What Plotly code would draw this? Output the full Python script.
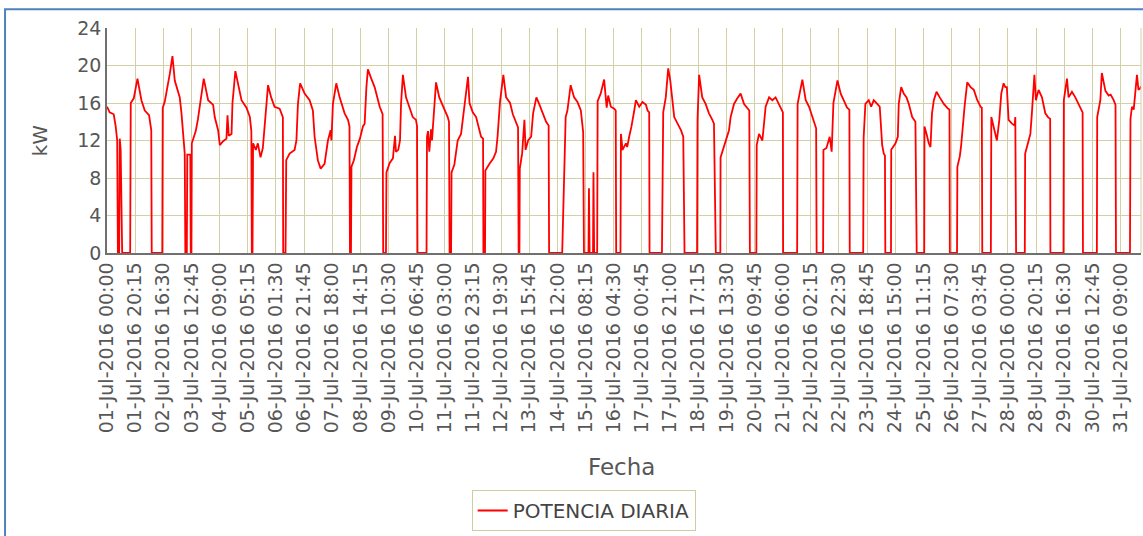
import pandas as pd
import plotly.graph_objects as go

# ---------------- data ----------------
fecha = [
    # 01-Jul
    "2016-07-01 00:00", "2016-07-01 01:55", "2016-07-01 04:50", "2016-07-01 06:15", "2016-07-01 07:20",
    "2016-07-01 07:50", "2016-07-01 08:45", "2016-07-01 09:10", "2016-07-01 09:50", "2016-07-01 10:55",
    "2016-07-01 16:40", "2016-07-01 17:05", "2016-07-01 19:15", "2016-07-01 21:55", "2016-07-02 00:45",
    "2016-07-02 03:10", "2016-07-02 06:15", "2016-07-02 07:50", "2016-07-02 08:10",
    # 02-Jul .. 05-Jul
    "2016-07-02 15:45", "2016-07-02 16:05", "2016-07-02 17:30", "2016-07-02 21:10", "2016-07-02 23:05",
    "2016-07-03 00:45", "2016-07-03 04:20", "2016-07-03 05:35", "2016-07-03 06:45", "2016-07-03 07:55",
    "2016-07-03 08:20", "2016-07-03 09:25", "2016-07-03 09:45", "2016-07-03 11:55", "2016-07-03 12:15",
    "2016-07-03 12:45", "2016-07-03 13:00", "2016-07-03 14:25", "2016-07-03 15:50", "2016-07-03 17:20",
    "2016-07-03 18:45", "2016-07-03 21:35", "2016-07-04 00:45", "2016-07-04 04:20", "2016-07-04 05:30",
    "2016-07-04 07:55", "2016-07-04 09:10", "2016-07-04 11:20", "2016-07-04 13:55", "2016-07-04 14:40",
    "2016-07-04 15:35", "2016-07-04 17:35", "2016-07-04 18:15", "2016-07-04 20:20", "2016-07-05 00:45",
    "2016-07-05 04:20", "2016-07-05 06:45", "2016-07-05 07:50", "2016-07-05 08:10",
    # 05-Jul .. 06-Jul
    "2016-07-05 08:40", "2016-07-05 09:05", "2016-07-05 11:05", "2016-07-05 12:30", "2016-07-05 14:25",
    "2016-07-05 16:05", "2016-07-05 17:30", "2016-07-05 18:45", "2016-07-05 19:50", "2016-07-05 22:05",
    "2016-07-06 00:30", "2016-07-06 04:10", "2016-07-06 05:25", "2016-07-06 06:30", "2016-07-06 06:45",
    # 06-Jul .. 08-Jul
    "2016-07-06 08:25", "2016-07-06 08:55", "2016-07-06 11:20", "2016-07-06 14:55", "2016-07-06 16:15",
    "2016-07-06 17:20", "2016-07-06 18:55", "2016-07-06 22:10", "2016-07-07 01:45", "2016-07-07 04:05",
    "2016-07-07 05:20", "2016-07-07 07:40", "2016-07-07 09:40", "2016-07-07 12:30", "2016-07-07 14:55",
    "2016-07-07 16:50", "2016-07-07 17:25", "2016-07-07 18:30", "2016-07-07 20:55", "2016-07-07 23:20",
    "2016-07-08 02:55", "2016-07-08 05:20", "2016-07-08 06:25", "2016-07-08 06:45",
    # 08-Jul .. 09-Jul
    "2016-07-08 07:30", "2016-07-08 07:50", "2016-07-08 09:35", "2016-07-08 11:45", "2016-07-08 13:55",
    "2016-07-08 16:05", "2016-07-08 17:20", "2016-07-08 18:35", "2016-07-08 19:40", "2016-07-08 22:05",
    "2016-07-09 00:30", "2016-07-09 04:10", "2016-07-09 05:15", "2016-07-09 06:15", "2016-07-09 06:40",
    # 09-Jul .. 10-Jul
    "2016-07-09 08:40", "2016-07-09 09:00", "2016-07-09 11:20", "2016-07-09 13:40", "2016-07-09 15:10",
    "2016-07-09 15:50", "2016-07-09 17:30", "2016-07-09 18:45", "2016-07-09 19:30", "2016-07-09 20:50",
    "2016-07-09 23:05", "2016-07-10 01:25", "2016-07-10 03:55", "2016-07-10 06:15", "2016-07-10 07:00",
    "2016-07-10 07:20",
    # 10-Jul .. 11-Jul
    "2016-07-10 13:50", "2016-07-10 14:10", "2016-07-10 14:55", "2016-07-10 15:50", "2016-07-10 17:05",
    "2016-07-10 17:45", "2016-07-10 19:25", "2016-07-10 20:40", "2016-07-10 23:00", "2016-07-11 02:40",
    "2016-07-11 05:05", "2016-07-11 06:00", "2016-07-11 06:25",
    # 11-Jul .. 12-Jul
    "2016-07-11 07:30", "2016-07-11 07:50", "2016-07-11 09:50", "2016-07-11 11:05", "2016-07-11 12:15",
    "2016-07-11 14:40", "2016-07-11 16:05", "2016-07-11 17:30", "2016-07-11 19:40", "2016-07-11 20:45",
    "2016-07-11 23:05", "2016-07-12 01:30", "2016-07-12 03:50", "2016-07-12 05:05", "2016-07-12 06:30",
    "2016-07-12 06:45",
    # 12-Jul .. 13-Jul
    "2016-07-12 07:55", "2016-07-12 08:10", "2016-07-12 11:00", "2016-07-12 13:55", "2016-07-12 15:50",
    "2016-07-12 16:55", "2016-07-12 18:45", "2016-07-12 21:05", "2016-07-12 23:05", "2016-07-13 01:55",
    "2016-07-13 03:55", "2016-07-13 06:15", "2016-07-13 07:40", "2016-07-13 08:05",
    # 13-Jul .. 14-Jul
    "2016-07-13 08:40", "2016-07-13 08:55", "2016-07-13 10:35", "2016-07-13 12:15", "2016-07-13 13:05",
    "2016-07-13 14:55", "2016-07-13 17:05", "2016-07-13 18:30", "2016-07-13 20:50", "2016-07-13 22:50",
    "2016-07-14 01:30", "2016-07-14 03:50", "2016-07-14 05:40", "2016-07-14 06:00",
    # 14-Jul .. 15-Jul
    "2016-07-14 15:25", "2016-07-14 17:55", "2016-07-14 19:10", "2016-07-14 20:05", "2016-07-14 21:30",
    "2016-07-15 00:00", "2016-07-15 02:25", "2016-07-15 04:50", "2016-07-15 06:30", "2016-07-15 07:05",
    "2016-07-15 10:20", "2016-07-15 10:40", "2016-07-15 11:10", "2016-07-15 13:35", "2016-07-15 13:55",
    "2016-07-15 14:25",
    # 15-Jul .. 16-Jul
    "2016-07-15 16:35", "2016-07-15 16:55", "2016-07-15 19:05", "2016-07-15 21:35", "2016-07-15 23:25",
    "2016-07-16 00:30", "2016-07-16 02:25", "2016-07-16 04:50", "2016-07-16 05:55", "2016-07-16 06:15",
    # 16-Jul .. 17-Jul
    "2016-07-16 09:20", "2016-07-16 09:40", "2016-07-16 10:50", "2016-07-16 13:15", "2016-07-16 14:10",
    "2016-07-16 15:35", "2016-07-16 17:15", "2016-07-16 19:15", "2016-07-16 20:25", "2016-07-16 22:50",
    "2016-07-17 01:10", "2016-07-17 03:40", "2016-07-17 04:50", "2016-07-17 06:00", "2016-07-17 06:15",
    # 17-Jul .. 18-Jul
    "2016-07-17 15:10", "2016-07-17 16:05", "2016-07-17 17:55", "2016-07-17 19:40", "2016-07-17 21:10",
    "2016-07-18 00:00", "2016-07-18 02:25", "2016-07-18 04:50", "2016-07-18 06:30", "2016-07-18 07:25",
    # 18-Jul .. 19-Jul
    "2016-07-18 16:25", "2016-07-18 16:45", "2016-07-18 17:55", "2016-07-18 20:10", "2016-07-18 22:35",
    "2016-07-19 01:00", "2016-07-19 03:25", "2016-07-19 04:35", "2016-07-19 05:55",
    # 19-Jul .. 20-Jul
    "2016-07-19 09:10", "2016-07-19 09:20", "2016-07-19 11:50", "2016-07-19 13:00", "2016-07-19 15:25",
    "2016-07-19 16:35", "2016-07-19 19:00", "2016-07-19 21:25", "2016-07-19 23:45", "2016-07-20 02:15",
    "2016-07-20 04:35", "2016-07-20 06:00", "2016-07-20 06:25",
    # 20-Jul .. 21-Jul
    "2016-07-20 11:05", "2016-07-20 11:20", "2016-07-20 13:00", "2016-07-20 15:25", "2016-07-20 16:35",
    "2016-07-20 17:45", "2016-07-20 20:15", "2016-07-20 22:35", "2016-07-21 00:55", "2016-07-21 03:50",
    "2016-07-21 05:15", "2016-07-21 06:10", "2016-07-21 06:20",
    # 21-Jul .. 22-Jul
    "2016-07-21 16:25", "2016-07-21 16:45", "2016-07-21 20:10", "2016-07-21 22:35", "2016-07-22 01:00",
    "2016-07-22 03:25", "2016-07-22 05:20", "2016-07-22 06:05", "2016-07-22 06:25",
    # 22-Jul .. 23-Jul
    "2016-07-22 11:05", "2016-07-22 11:20", "2016-07-22 13:30", "2016-07-22 15:50", "2016-07-22 17:15",
    "2016-07-22 18:30", "2016-07-22 21:25", "2016-07-22 23:45", "2016-07-23 02:25", "2016-07-23 04:20",
    "2016-07-23 06:00", "2016-07-23 06:15",
    # 23-Jul .. 24-Jul
    "2016-07-23 15:55", "2016-07-23 16:15", "2016-07-23 17:30", "2016-07-23 19:55", "2016-07-23 21:40",
    "2016-07-23 23:30", "2016-07-24 02:00", "2016-07-24 03:50", "2016-07-24 05:35", "2016-07-24 06:45",
    "2016-07-24 07:35", "2016-07-24 07:50",
    # 24-Jul .. 25-Jul
    "2016-07-24 11:55", "2016-07-24 12:05", "2016-07-24 15:10", "2016-07-24 16:50", "2016-07-24 17:30",
    "2016-07-24 19:15", "2016-07-24 21:05", "2016-07-24 23:05", "2016-07-25 00:45", "2016-07-25 03:10",
    "2016-07-25 05:30", "2016-07-25 06:25",
    # 25-Jul .. 26-Jul
    "2016-07-25 11:50", "2016-07-25 12:00", "2016-07-25 13:30", "2016-07-25 15:05", "2016-07-25 16:20",
    "2016-07-25 17:25", "2016-07-25 18:45", "2016-07-25 20:40", "2016-07-25 23:00", "2016-07-26 01:55",
    "2016-07-26 04:50", "2016-07-26 06:00", "2016-07-26 06:15",
    # 26-Jul .. 27-Jul
    "2016-07-26 11:25", "2016-07-26 11:40", "2016-07-26 13:25", "2016-07-26 14:25", "2016-07-26 15:55",
    "2016-07-26 16:50", "2016-07-26 18:45", "2016-07-26 21:10", "2016-07-26 23:30", "2016-07-27 02:00",
    "2016-07-27 04:20", "2016-07-27 05:15", "2016-07-27 05:35",
    # 27-Jul .. 28-Jul
    "2016-07-27 11:45", "2016-07-27 12:05", "2016-07-27 13:40", "2016-07-27 16:05", "2016-07-27 17:50",
    "2016-07-27 19:15", "2016-07-27 20:55", "2016-07-27 22:10", "2016-07-27 23:15", "2016-07-28 00:30",
    "2016-07-28 02:55", "2016-07-28 04:50", "2016-07-28 05:20", "2016-07-28 05:55",
    # 28-Jul .. 29-Jul
    "2016-07-28 12:10", "2016-07-28 12:25", "2016-07-28 14:25", "2016-07-28 16:10", "2016-07-28 17:15",
    "2016-07-28 19:05", "2016-07-28 20:10", "2016-07-28 22:05", "2016-07-29 00:30", "2016-07-29 02:55",
    "2016-07-29 04:50", "2016-07-29 06:25", "2016-07-29 06:35",
    # 29-Jul .. 30-Jul
    "2016-07-29 16:00", "2016-07-29 16:15", "2016-07-29 18:30", "2016-07-29 19:40", "2016-07-29 22:05",
    "2016-07-30 00:30", "2016-07-30 02:55", "2016-07-30 04:50", "2016-07-30 05:45", "2016-07-30 06:00",
    # 30-Jul .. 31-Jul
    "2016-07-30 16:00", "2016-07-30 16:15", "2016-07-30 18:30", "2016-07-30 19:35", "2016-07-30 22:10",
    "2016-07-31 00:30", "2016-07-31 01:55", "2016-07-31 04:05", "2016-07-31 05:25", "2016-07-31 05:45",
    # 31-Jul
    "2016-07-31 15:50", "2016-07-31 16:10", "2016-07-31 17:15", "2016-07-31 18:30", "2016-07-31 20:50",
    "2016-07-31 21:55", "2016-07-31 23:20", "2016-07-31 23:45",
]

potencia_kw = [
    15.6, 15.0, 14.8, 13.5, 12.0, 0, 0, 12.2, 11.0, 0,
    0, 16.0, 16.5, 18.6, 16.3, 15.2, 14.7, 13.1, 0,
    0, 15.5, 16.1, 19.1, 21.0, 18.4, 16.6, 14.9, 12.7, 10.6,
    0, 0, 10.5, 10.5, 0, 0, 11.7, 12.5, 13.0, 14.2,
    15.8, 18.6, 16.3, 15.8, 14.5, 13.1, 11.5, 11.9, 12.2, 14.7,
    12.5, 12.7, 16.0, 19.4, 16.3, 15.5, 14.5, 13.0, 0,
    0, 11.7, 11.0, 11.7, 10.2, 11.2, 14.0, 15.9, 17.9, 16.6,
    15.6, 15.4, 14.9, 14.5, 0,
    0, 9.9, 10.6, 11.0, 12.0, 15.9, 18.1, 17.0, 16.3, 15.2,
    12.4, 9.9, 9.0, 9.5, 12.0, 13.1, 12.0, 15.9, 18.1, 16.6,
    14.9, 14.2, 13.5, 0,
    0, 9.2, 9.9, 11.3, 12.2, 13.5, 13.8, 17.7, 19.6, 18.6,
    17.7, 15.6, 15.1, 14.8, 0,
    0, 8.6, 9.6, 10.1, 12.5, 10.8, 11.0, 12.0, 15.9, 19.0,
    16.6, 15.6, 14.5, 14.2, 13.5, 0,
    0, 12.4, 13.0, 10.8, 13.2, 12.0, 15.9, 18.2, 16.6, 15.4,
    14.5, 14.0, 0,
    0, 8.6, 9.4, 10.6, 12.0, 12.7, 14.5, 16.0, 18.8, 16.0,
    15.0, 14.5, 13.1, 12.4, 12.2, 0,
    0, 8.8, 9.5, 10.1, 10.8, 12.4, 16.2, 19.0, 16.6, 16.0,
    14.8, 13.8, 13.4, 0,
    0, 9.0, 10.6, 14.2, 11.0, 12.0, 12.4, 14.9, 16.6, 15.9,
    14.9, 14.0, 13.6, 0,
    0, 14.5, 15.2, 16.3, 17.9, 16.6, 16.1, 15.2, 12.9, 0,
    0, 6.9, 0, 0, 8.6, 0,
    0, 16.2, 17.0, 18.5, 15.5, 16.8, 15.6, 15.4, 15.2, 0,
    0, 12.7, 11.0, 11.7, 11.3, 12.4, 13.5, 15.2, 16.3, 15.6,
    16.1, 15.8, 15.2, 15.0, 0,
    0, 15.0, 16.6, 19.7, 18.4, 14.5, 13.8, 13.1, 12.4, 0,
    0, 14.2, 19.0, 16.6, 15.9, 14.9, 14.2, 13.8, 0,
    0, 10.2, 11.3, 12.0, 13.1, 14.5, 15.9, 16.5, 17.0, 15.9,
    15.4, 15.2, 0,
    0, 11.5, 12.7, 12.0, 13.5, 15.6, 16.6, 16.3, 16.6, 15.6,
    15.2, 15.0, 0,
    0, 15.9, 18.5, 16.3, 15.6, 14.5, 13.5, 13.3, 0,
    0, 11.0, 11.2, 12.4, 10.8, 16.0, 18.4, 17.0, 16.1, 15.5,
    15.3, 0,
    0, 12.3, 15.9, 16.3, 15.6, 16.3, 15.9, 15.6, 11.5, 10.6,
    10.4, 0,
    0, 11.0, 11.7, 12.4, 15.9, 17.7, 17.0, 16.6, 15.9, 14.5,
    14.0, 0,
    0, 13.5, 12.7, 11.7, 11.3, 14.9, 16.3, 17.2, 16.6, 15.9,
    15.4, 15.3, 0,
    0, 9.2, 10.3, 11.5, 14.2, 15.6, 18.2, 17.7, 17.4, 16.3,
    15.6, 15.5, 0,
    0, 14.5, 13.5, 12.0, 14.2, 17.0, 18.1, 17.7, 17.7, 14.2,
    13.8, 13.6, 14.5, 0,
    0, 10.6, 11.7, 12.7, 14.9, 19.0, 16.3, 17.4, 16.6, 14.9,
    14.5, 14.3, 0,
    0, 16.3, 18.6, 16.6, 17.2, 16.6, 15.9, 15.2, 15.0, 0,
    0, 14.5, 16.3, 19.2, 17.3, 16.8, 16.9, 16.3, 15.8, 0,
    0, 14.3, 15.6, 15.3, 19.0, 17.4, 17.6, 17.8,
]

tick_labels = [
    "01-Jul-2016 00:00", "01-Jul-2016 20:15", "02-Jul-2016 16:30", "03-Jul-2016 12:45",
    "04-Jul-2016 09:00", "05-Jul-2016 05:15", "06-Jul-2016 01:30", "06-Jul-2016 21:45",
    "07-Jul-2016 18:00", "08-Jul-2016 14:15", "09-Jul-2016 10:30", "10-Jul-2016 06:45",
    "11-Jul-2016 03:00", "11-Jul-2016 23:15", "12-Jul-2016 19:30", "13-Jul-2016 15:45",
    "14-Jul-2016 12:00", "15-Jul-2016 08:15", "16-Jul-2016 04:30", "17-Jul-2016 00:45",
    "17-Jul-2016 21:00", "18-Jul-2016 17:15", "19-Jul-2016 13:30", "20-Jul-2016 09:45",
    "21-Jul-2016 06:00", "22-Jul-2016 02:15", "22-Jul-2016 22:30", "23-Jul-2016 18:45",
    "24-Jul-2016 15:00", "25-Jul-2016 11:15", "26-Jul-2016 07:30", "27-Jul-2016 03:45",
    "28-Jul-2016 00:00", "28-Jul-2016 20:15", "29-Jul-2016 16:30", "30-Jul-2016 12:45",
    "31-Jul-2016 09:00",
]
y_ticks = [0, 4, 8, 12, 16, 20, 24]

# ---------------- figure ----------------
tick_vals = pd.to_datetime(tick_labels, format="%d-%b-%Y %H:%M")
x = pd.to_datetime(fecha)

GRID = "#d3d0a6"
TXT = "#575757"
FONT = "DejaVu Sans"

fig = go.Figure()
fig.add_trace(go.Scatter(
    x=x, y=potencia_kw, mode="lines", name="POTENCIA DIARIA",
    line=dict(color="#ff0000", width=1.8),
))

fig.update_layout(
    width=1143, height=536,
    margin=dict(l=107, r=2, t=28, b=283, autoexpand=False),
    paper_bgcolor="white", plot_bgcolor="white",
    font=dict(family=FONT, color=TXT),
    showlegend=True,
    legend=dict(
        xref="paper", yref="container",
        x=0.461, y=(536 - 490) / 536, xanchor="center", yanchor="top",
        orientation="h", bgcolor="white",
        bordercolor="#cfcca0", borderwidth=1,
        font=dict(family=FONT, size=20, color="#444444"),
    ),
    xaxis=dict(
        type="date", automargin=False,
        range=["2016-07-01 00:00", "2016-07-31 23:45"],
        tickmode="array", tickvals=tick_vals, ticktext=tick_labels,
        tickangle=-90, tickfont=dict(family=FONT, size=19, color=TXT),
        showgrid=True, gridcolor=GRID, gridwidth=1,
        showline=True, linecolor="#707070", linewidth=1.5,
        ticks="", zeroline=False,
    ),
    yaxis=dict(
        range=[0, 24], automargin=False,
        tickmode="array", tickvals=y_ticks,
        tickfont=dict(family=FONT, size=19, color=TXT),
        showgrid=True, gridcolor=GRID, gridwidth=1,
        showline=True, linecolor="#707070", linewidth=1.5,
        ticks="", zeroline=False,
    ),
    annotations=[
        dict(text="kW", xref="paper", yref="paper", x=-0.065, y=0.50,
             textangle=-90, showarrow=False, xanchor="center", yanchor="middle",
             font=dict(family=FONT, size=20, color=TXT)),
        dict(text="Fecha", xref="paper", yref="paper", x=0.498, y=-0.952,
             showarrow=False, xanchor="center", yanchor="middle",
             font=dict(family=FONT, size=23, color=TXT)),
    ],
    shapes=[
        dict(type="line", xref="paper", yref="paper", x0=1, x1=1, y0=0, y1=1,
             line=dict(color=GRID, width=1)),
        dict(type="rect", xref="paper", yref="paper",
             x0=-0.0986, x1=1.009, y0=-1.30, y1=1.083,
             line=dict(color="#4f81bd", width=2), layer="below"),
    ],
)

# remove the default page margin so the figure sits exactly at the window origin
fig.write_html(
    "out.html",
    config={"displayModeBar": False},
    post_script="document.body.style.margin='0';document.body.style.overflow='hidden';",
)
